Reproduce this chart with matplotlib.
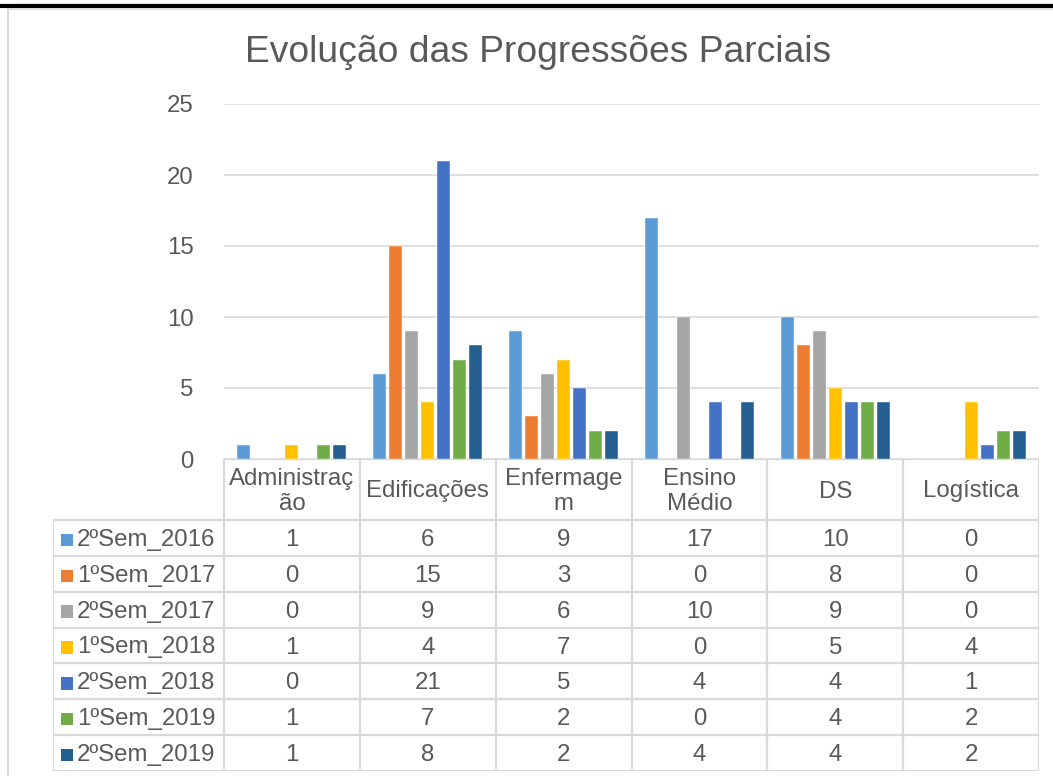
import matplotlib
matplotlib.use("Agg")
import matplotlib.pyplot as plt
from matplotlib.lines import Line2D
from matplotlib.patches import Rectangle

plt.rcParams['font.family'] = ['Liberation Sans', 'DejaVu Sans']

# ---- data ----
categories = ["Administração", "Edificações", "Enfermagem", "Ensino Médio", "DS", "Logística"]
header_labels = ["Administraç\não", "Edificações", "Enfermage\nm", "Ensino\nMédio", "DS", "Logística"]
series_names = ["2ºSem_2016", "1ºSem_2017", "2ºSem_2017", "1ºSem_2018",
                "2ºSem_2018", "1ºSem_2019", "2ºSem_2019"]
sem2_2016 = [1, 6, 9, 17, 10, 0]
sem1_2017 = [0, 15, 3, 0, 8, 0]
sem2_2017 = [0, 9, 6, 10, 9, 0]
sem1_2018 = [1, 4, 7, 0, 5, 4]
sem2_2018 = [0, 21, 5, 4, 4, 1]
sem1_2019 = [1, 7, 2, 0, 4, 2]
sem2_2019 = [1, 8, 2, 4, 4, 2]
series_values = [sem2_2016, sem1_2017, sem2_2017, sem1_2018, sem2_2018, sem1_2019, sem2_2019]
colors = ["#5B9BD5", "#ED7D31", "#A5A5A5", "#FFC000", "#4472C4", "#70AD47", "#255E91"]
yticks = [0, 5, 10, 15, 20, 25]
title = "Evolução das Progressões Parciais"

W, H = 1053, 776
fig = plt.figure(figsize=(W / 100, H / 100), dpi=100)
fig.patch.set_facecolor("white")

def fx(px):
    return px / W

def fy(py):
    return 1 - py / H

txt_color = "#595959"
grid_color = "#D9D9D9"
fs = 17.3

# ---- main bar axes ----
ax_l, ax_r = 224, 1039
ax_t, ax_b = 104, 459
ax = fig.add_axes([fx(ax_l), fy(ax_b), fx(ax_r - ax_l), (ax_b - ax_t) / H])
n = len(series_values)
pitch = 16 / 135.8
width = 13 / 135.8
xs = list(range(len(categories)))
for i, (vals, c) in enumerate(zip(series_values, colors)):
    off = (i - (n - 1) / 2) * pitch
    ax.bar([x + off for x in xs], vals, width=width, color=c, zorder=3,
           edgecolor="white", linewidth=0.3)
ax.set_xlim(-0.5, len(categories) - 0.5)
ax.set_ylim(0, 25)
ax.set_yticks(yticks)
ax.set_yticklabels([str(v) for v in yticks], fontsize=fs, color=txt_color)
ax.tick_params(axis='y', length=0, pad=22)
ax.set_xticks([])
ax.yaxis.grid(True, color=grid_color, linewidth=1.2, zorder=0)
for s in ax.spines.values():
    s.set_visible(False)
ax.set_facecolor("none")

# ---- data table axes ----
tb_l, tb_r = 53, 1039
tb_t, tb_b = 459, 771
tax = fig.add_axes([fx(tb_l), fy(tb_b), fx(tb_r - tb_l), (tb_b - tb_t) / H])
cat_w = (ax_r - ax_l) / len(categories)
left_x = -0.5 - (ax_l - tb_l) / cat_w
tax.set_xlim(left_x, len(categories) - 0.5)
row_h = (tb_b - 520) / len(series_names)
head_h = (520 - tb_t) / row_h
tax.set_ylim(len(series_names), -head_h)
tax.axis("off")

lw = 1.6
# horizontal lines
tax.hlines(-head_h, -0.5, len(categories) - 0.5, color=grid_color, lw=lw)
for r in range(len(series_names) + 1):
    tax.hlines(r, left_x, len(categories) - 0.5, color=grid_color, lw=lw)
# vertical lines
tax.vlines(left_x, 0, len(series_names), color=grid_color, lw=lw)
for k in range(len(categories) + 1):
    tax.vlines(k - 0.5, -head_h, len(series_names), color=grid_color, lw=lw)

# header labels
for k, lab in enumerate(header_labels):
    tax.text(k, -head_h / 2 + 2 / row_h, lab, ha="center", va="center", fontsize=fs,
             color=txt_color, linespacing=1.17)

# rows
sq = 12.5 / cat_w
for r, (name, vals, c) in enumerate(zip(series_names, series_values, colors)):
    yc = r + 0.5
    ty = yc + 2 / row_h
    key_x = left_x + (61 - tb_l) / cat_w
    tax.add_patch(Rectangle((key_x, ty - (12.5 / row_h) / 2), sq, 12.5 / row_h,
                            facecolor=c, edgecolor="none"))
    tax.text(left_x + (77 - tb_l) / cat_w, ty, name, ha="left", va="center",
             fontsize=fs, color=txt_color)
    for k, v in enumerate(vals):
        tax.text(k, ty, str(v), ha="center", va="center", fontsize=fs, color=txt_color)

# ---- title ----
fig.text(fx(538), fy(53), title, ha="center", va="center", fontsize=26.8, color=txt_color)

# ---- outer frame ----
fig.add_artist(Line2D([0, 1], [fy(4.7), fy(4.7)], color="black", lw=2.3))
fig.add_artist(Line2D([0, 1], [fy(7.3), fy(7.3)], color="black", lw=0.8))
fig.add_artist(Line2D([fx(7.5), 1], [fy(8.6), fy(8.6)], color="#D9D9D9", lw=1.2))
fig.add_artist(Line2D([fx(7.5), fx(7.5)], [fy(8.6), 0], color="#D9D9D9", lw=1.5))

fig.savefig("out.png", dpi=100)
